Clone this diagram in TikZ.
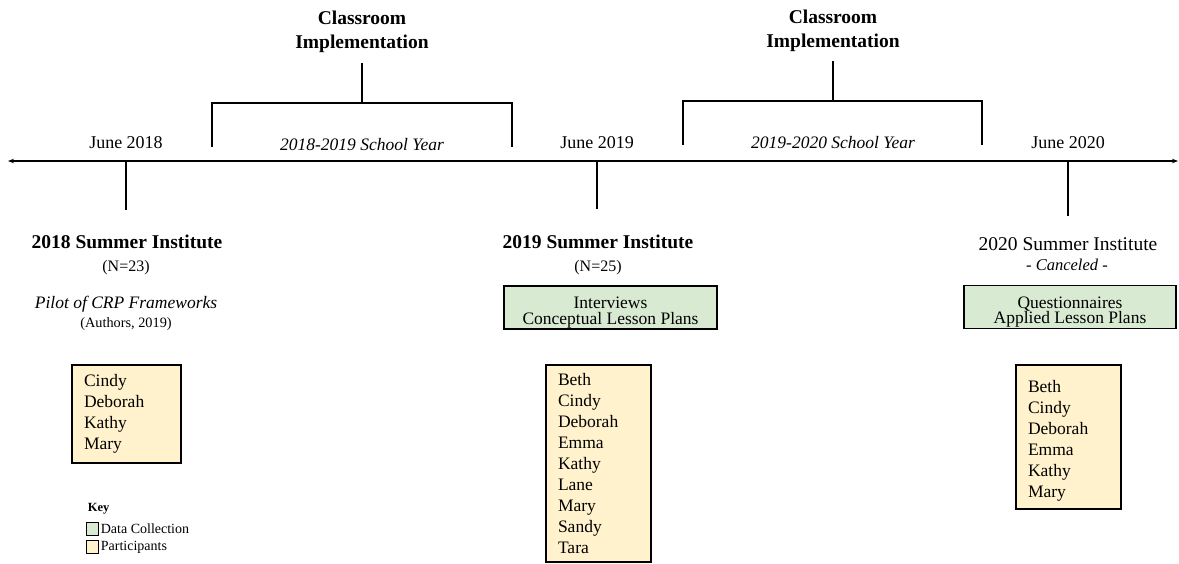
\documentclass[tikz,border=0pt]{standalone}
\usepackage{fontspec}
\setmainfont{Liberation Serif}
\usetikzlibrary{arrows.meta}

\tikzset{
    lbl/.style={font=\fontsize{18}{21}\selectfont},
    head/.style={font=\bfseries\fontsize{19.5}{24}\selectfont, align=center},
    small/.style={font=\fontsize{16}{19}\selectfont},
    datbox/.style={draw, line width=1.2pt, fill=datgreen, minimum width=213, minimum height=43, align=center, text height=33pt, text depth=0pt, font=\fontsize{17.5}{15.5}\selectfont},
    namebox/.style={draw, line width=1.2pt, fill=partyellow, inner xsep=12pt, align=left, font=\fontsize{17.5}{21}\selectfont},
}
\definecolor{datgreen}{RGB}{217,234,211}
\definecolor{partyellow}{RGB}{255,242,204}

\begin{document}
\begin{tikzpicture}[x=1pt, y=-1pt, line width=1.2pt, >={Stealth[length=6pt,width=4.5pt]}]
    \useasboundingbox (0,0) rectangle (1179,563);

    % timeline
    \coordinate (tlleft) at (8,161);
    \coordinate (tlright) at (1178,161);
    \draw[<->] (tlleft) -- (tlright);

    \node[lbl] (june18) at (126,143) {June 2018};
    \node[lbl] (june19) at (597,143) {June 2019};
    \node[lbl] (june20) at (1068,143) {June 2020};

    \coordinate (t18) at (126,161);
    \coordinate (t19) at (597,161);
    \coordinate (t20) at (1068,161);
    \draw (t18) -- ++(0,49);
    \draw (t19) -- ++(0,48);
    \draw (t20) -- ++(0,55);

    % school years
    \node[head] (ci1) at (362,32) {Classroom\\Implementation};
    \node[head] (ci2) at (833,31) {Classroom\\Implementation};

    \coordinate (b1l) at (212,147);
    \coordinate (b1r) at (512,147);
    \coordinate (b1m) at (362,103);
    \coordinate (b1top) at (362,63);
    \draw (b1l) |- (b1m) -| (b1r);
    \draw (b1m) -- (b1top);

    \coordinate (b2l) at (683,145);
    \coordinate (b2r) at (982,145);
    \coordinate (b2m) at (833,101);
    \coordinate (b2top) at (833,61);
    \draw (b2l) |- (b2m) -| (b2r);
    \draw (b2m) -- (b2top);

    \node[lbl, font=\itshape\fontsize{17.5}{21}\selectfont] (sy1) at (362,145) {2018-2019 School Year};
    \node[lbl, font=\itshape\fontsize{17.5}{21}\selectfont] (sy2) at (833,143) {2019-2020 School Year};

    % 2018
    \node[head] (si18) at (127,242) {2018 Summer Institute};
    \node[small] (n18) at (126,268) {(N=23)};
    \node[lbl, font=\itshape\fontsize{17.5}{21}\selectfont] (pilot) at (126,304) {Pilot of CRP Frameworks};
    \node[font=\fontsize{14.3}{17}\selectfont] (auth) at (126,324) {(Authors, 2019)};
    \node[namebox, text width=85, minimum height=98] (p18) at (126.5,414) {Cindy\\Deborah\\Kathy\\Mary};

    % 2019
    \node[head] (si19) at (598,242) {2019 Summer Institute};
    \node[small] (n19) at (598,268) {(N=25)};
    \node[datbox] (d19) at (610.5,307.5) {Interviews\\Conceptual Lesson Plans};
    \node[namebox, text width=81, minimum height=197] (p19) at (598.5,463.5) {Beth\\Cindy\\Deborah\\Emma\\Kathy\\Lane\\Mary\\Sandy\\Tara};

    % 2020
    \node[font=\fontsize{19.5}{24}\selectfont] (si20) at (1068,244) {2020 Summer Institute};
    \node[font=\fontsize{16.5}{19}\selectfont] (canc) at (1067,265) {- \textit{Canceled} -};
    \node[datbox, minimum width=212] (d20) at (1070,307) {Questionnaires\\Applied Lesson Plans};
    \node[namebox, text width=81, minimum height=144, text height=20pt] (p20) at (1068.5,437) {Beth\\Cindy\\Deborah\\Emma\\Kathy\\Mary};

    % key
    \node[anchor=west, font=\bfseries\fontsize{12.5}{15}\selectfont] (key) at (84,509) {Key};
    \node[draw, line width=1pt, fill=datgreen, minimum size=12.5, inner sep=0pt] (kd) at (92.5,529) {};
    \node[draw, line width=1pt, fill=partyellow, minimum size=12.5, inner sep=0pt] (kp) at (92.5,547) {};
    \node[anchor=west, inner sep=1pt, font=\fontsize{14}{16}\selectfont] (kdl) at (kd.east) {Data Collection};
    \node[anchor=west, inner sep=1pt, font=\fontsize{14}{16}\selectfont] (kpl) at (kp.east) {Participants};
\end{tikzpicture}
\end{document}
